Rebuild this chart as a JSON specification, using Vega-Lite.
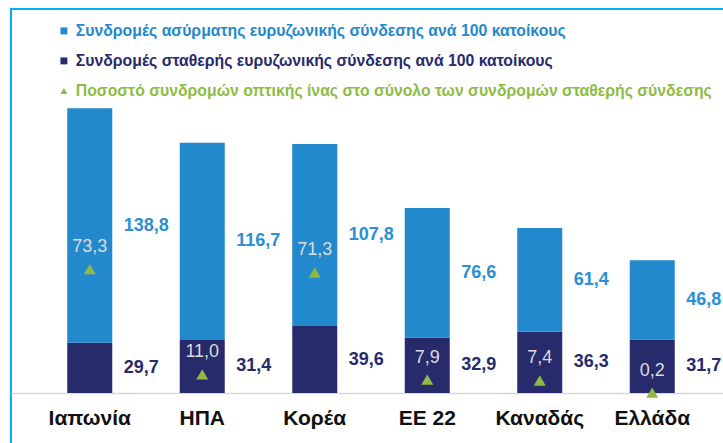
{
  "$schema": "https://vega.github.io/schema/vega-lite/v6.json",
  "width": 720,
  "height": 440,
  "autosize": {"type": "none"},
  "padding": {"left": 11, "top": 9, "right": 0, "bottom": 0},
  "background": "white",
  "config": {
    "view": {"stroke": "#00B0F0", "strokeWidth": 2},
    "font": "Liberation Sans"
  },
  "data": {
    "values": [
      {"country": "Ιαπωνία", "wireless": 138.8, "fixed": 29.7, "fiber": 73.3},
      {"country": "ΗΠΑ", "wireless": 116.7, "fixed": 31.4, "fiber": 11.0},
      {"country": "Κορέα", "wireless": 107.8, "fixed": 39.6, "fiber": 71.3},
      {"country": "ΕΕ 22", "wireless": 76.6, "fixed": 32.9, "fiber": 7.9},
      {"country": "Καναδάς", "wireless": 61.4, "fixed": 36.3, "fiber": 7.4},
      {"country": "Ελλάδα", "wireless": 46.8, "fixed": 31.7, "fiber": 0.2}
    ]
  },
  "transform": [
    {"calculate": "datum.fixed + datum.wireless", "as": "total"},
    {"calculate": "datum.fixed + datum.wireless / 2", "as": "midW"},
    {"calculate": "datum.fixed / 2", "as": "midF"},
    {"calculate": "replace(format(datum.wireless, '.1f'), '.', ',')", "as": "labW"},
    {"calculate": "replace(format(datum.fixed, '.1f'), '.', ',')", "as": "labF"},
    {"calculate": "replace(format(datum.fiber, '.1f'), '.', ',')", "as": "labO"}
  ],
  "encoding": {
    "x": {
      "field": "country",
      "type": "nominal",
      "sort": null,
      "scale": {"paddingInner": 0.6, "paddingOuter": 0.5},
      "axis": {
        "orient": "bottom",
        "offset": -56,
        "title": null,
        "domain": true,
        "domainColor": "#D9D9D9",
        "domainWidth": 1.5,
        "ticks": false,
        "labelAngle": 0,
        "labelPadding": 14,
        "labelFont": "Liberation Sans",
        "labelFontSize": 21,
        "labelFontWeight": "bold",
        "labelColor": "#111111"
      }
    }
  },
  "layer": [
    {
      "mark": {"type": "bar", "width": 45},
      "encoding": {
        "y": {
          "field": "fixed",
          "type": "quantitative",
          "stack": null,
          "scale": {"domain": [-33.14, 227.22], "nice": false, "zero": false},
          "axis": null
        },
        "color": {
          "datum": "Συνδρομές σταθερής ευρυζωνικής σύνδεσης ανά 100 κατοίκους",
          "type": "nominal",
          "scale": {
            "domain": [
              "Συνδρομές ασύρματης ευρυζωνικής σύνδεσης ανά 100 κατοίκους",
              "Συνδρομές σταθερής ευρυζωνικής σύνδεσης ανά 100 κατοίκους",
              "Ποσοστό συνδρομών οπτικής ίνας  στο σύνολο  των συνδρομών σταθερής σύνδεσης"
            ],
            "range": ["#2389CD", "#272A6B", "#8DBB45"]
          },
          "legend": {
            "orient": "none",
            "legendX": 45,
            "legendY": 14,
            "title": null,
            "padding": 0,
            "symbolType": "square",
            "symbolSize": 48,
            "symbolStrokeWidth": 0,
            "labelFont": "Liberation Sans",
            "labelFontSize": 15.8,
            "labelFontWeight": "bold",
            "labelLimit": 800,
            "labelOffset": 4,
            "rowPadding": 13,
            "encode": {
              "labels": {"update": {"fill": {"scale": "color", "field": "value"}}},
              "symbols": {"update": {
                "shape": {"signal": "indexof(datum.value, 'Ποσοστό') === 0 ? 'triangle-up' : 'square'"},
                "fill": {"scale": "color", "field": "value"},
                "fillOpacity": {"value": 1},
                "strokeWidth": {"value": 0}
              }}
            }
          }
        }
      }
    },
    {
      "mark": {"type": "bar", "width": 45},
      "encoding": {
        "y": {"field": "fixed", "type": "quantitative"},
        "y2": {"field": "total"},
        "color": {"datum": "Συνδρομές ασύρματης ευρυζωνικής σύνδεσης ανά 100 κατοίκους", "type": "nominal"}
      }
    },
    {
      "mark": {"type": "point", "shape": "triangle-up", "filled": true, "size": 144, "opacity": 1},
      "encoding": {
        "y": {"field": "fiber", "type": "quantitative"},
        "color": {"datum": "Ποσοστό συνδρομών οπτικής ίνας  στο σύνολο  των συνδρομών σταθερής σύνδεσης", "type": "nominal"}
      }
    },
    {
      "mark": {"type": "text", "dy": -22, "align": "center", "baseline": "middle", "fontSize": 18, "color": "#DCDCDC", "font": "Liberation Sans"},
      "encoding": {
        "y": {"field": "fiber", "type": "quantitative"},
        "text": {"field": "labO"}
      }
    },
    {
      "mark": {"type": "text", "dx": 34, "align": "left", "baseline": "middle", "fontSize": 18, "fontWeight": "bold", "color": "#2A8FD4", "font": "Liberation Sans"},
      "encoding": {
        "y": {"field": "midW", "type": "quantitative"},
        "text": {"field": "labW"}
      }
    },
    {
      "mark": {"type": "text", "dx": 34, "align": "left", "baseline": "middle", "fontSize": 18, "fontWeight": "bold", "color": "#272A6B", "font": "Liberation Sans"},
      "encoding": {
        "y": {"field": "midF", "type": "quantitative"},
        "text": {"field": "labF"}
      }
    }
  ]
}
